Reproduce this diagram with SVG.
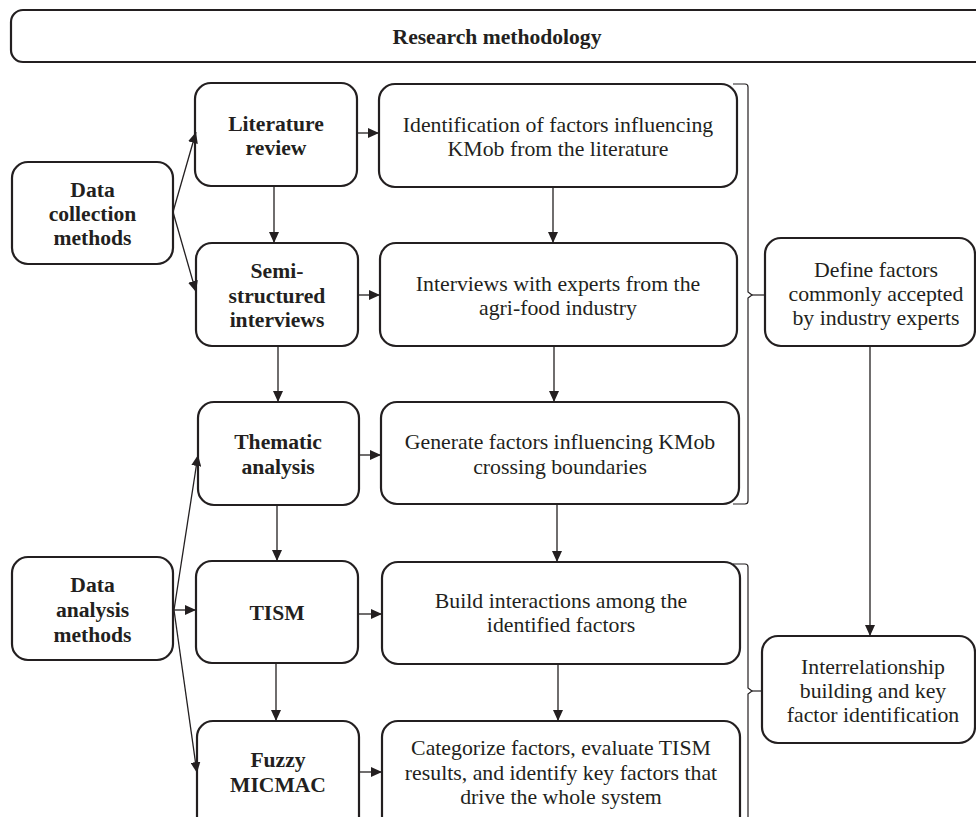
<svg xmlns="http://www.w3.org/2000/svg" width="976" height="817" viewBox="0 0 976 817">
<defs>
<marker id="ah" markerUnits="userSpaceOnUse" markerWidth="11" markerHeight="10" refX="11" refY="5" orient="auto">
<path d="M0,0 L11,5 L0,10 z" fill="#231f20"/>
</marker>
<style>
.box{fill:#fff;stroke:#231f20;stroke-width:2.2}
.b{font-family:"Liberation Serif","Times New Roman",serif;font-weight:bold;font-size:21.6px;fill:#231f20;text-anchor:middle}
.r{font-family:"Liberation Serif","Times New Roman",serif;font-size:21.8px;fill:#231f20;text-anchor:middle}
.c{fill:none;stroke:#231f20;stroke-width:1.3;marker-end:url(#ah)}
.br{fill:none;stroke:#231f20;stroke-width:1.2}
</style>
</defs>
<rect width="976" height="817" fill="#fff"/>

<g id="title">
<rect class="box" x="11" y="10" width="985" height="52" rx="12"/>
<text class="b" x="497" y="44">Research methodology</text>
</g>

<g id="data-collection">
<rect class="box" x="12" y="162" width="161" height="102" rx="16"/>
<text class="b" x="92.5" y="197">Data</text>
<text class="b" x="92.5" y="221">collection</text>
<text class="b" x="92.5" y="245">methods</text>
</g>

<g id="data-analysis">
<rect class="box" x="12" y="557" width="161" height="103" rx="16"/>
<text class="b" x="92.5" y="592">Data</text>
<text class="b" x="92.5" y="617">analysis</text>
<text class="b" x="92.5" y="642">methods</text>
</g>

<g id="literature-review">
<rect class="box" x="195" y="83" width="162" height="103" rx="16"/>
<text class="b" x="276" y="131">Literature</text>
<text class="b" x="276" y="155">review</text>
</g>

<g id="semi-structured">
<rect class="box" x="196" y="243" width="162" height="103" rx="16"/>
<text class="b" x="277" y="278">Semi-</text>
<text class="b" x="277" y="303">structured</text>
<text class="b" x="277" y="327">interviews</text>
</g>

<g id="thematic">
<rect class="box" x="198" y="402" width="161" height="103" rx="16"/>
<text class="b" x="278" y="449">Thematic</text>
<text class="b" x="278" y="474">analysis</text>
</g>

<g id="tism">
<rect class="box" x="196" y="561" width="162" height="102" rx="16"/>
<text class="b" x="277" y="620">TISM</text>
</g>

<g id="fuzzy">
<rect class="box" x="197" y="721" width="162" height="115" rx="16"/>
<text class="b" x="278" y="767">Fuzzy</text>
<text class="b" x="278" y="792">MICMAC</text>
</g>

<g id="identification">
<rect class="box" x="379" y="84" width="358" height="103" rx="16"/>
<text class="r" x="558" y="132">Identification of factors influencing</text>
<text class="r" x="558" y="156">KMob from the literature</text>
</g>

<g id="interviews">
<rect class="box" x="380" y="243" width="357" height="103" rx="16"/>
<text class="r" x="558" y="291">Interviews with experts from the</text>
<text class="r" x="558" y="315">agri-food industry</text>
</g>

<g id="generate">
<rect class="box" x="381" y="402" width="358" height="102" rx="16"/>
<text class="r" x="560" y="449">Generate factors influencing KMob</text>
<text class="r" x="560" y="474">crossing boundaries</text>
</g>

<g id="build">
<rect class="box" x="382" y="562" width="358" height="102" rx="16"/>
<text class="r" x="561" y="608">Build interactions among the</text>
<text class="r" x="561" y="632">identified factors</text>
</g>

<g id="categorize">
<rect class="box" x="382" y="721" width="358" height="115" rx="16"/>
<text class="r" x="561" y="755">Categorize factors, evaluate TISM</text>
<text class="r" x="561" y="780">results, and identify key factors that</text>
<text class="r" x="561" y="804">drive the whole system</text>
</g>

<g id="define">
<rect class="box" x="765" y="238" width="210" height="108" rx="16"/>
<text class="r" x="876" y="277">Define factors</text>
<text class="r" x="876" y="301">commonly accepted</text>
<text class="r" x="876" y="325">by industry experts</text>
</g>

<g id="interrelationship">
<rect class="box" x="762" y="636" width="213" height="107" rx="16"/>
<text class="r" x="873" y="674">Interrelationship</text>
<text class="r" x="873" y="698">building and key</text>
<text class="r" x="873" y="722">factor identification</text>
</g>

<g id="connectors">
<path class="c" d="M173,212 L196,132"/>
<path class="c" d="M173,212 L196,292"/>
<path class="c" d="M274,186 L274,243"/>
<path class="c" d="M278,346 L278,402"/>
<path class="c" d="M277,505 L277,561"/>
<path class="c" d="M276,663 L276,721"/>
<path class="c" d="M174,610 L198,455"/>
<path class="c" d="M173,610 L196,610"/>
<path class="c" d="M174,610 L197,773"/>
<path class="c" d="M357,133 L379,133"/>
<path class="c" d="M358,295 L380,295"/>
<path class="c" d="M359,455 L381,455"/>
<path class="c" d="M358,614 L382,614"/>
<path class="c" d="M359,772 L382,772"/>
<path class="c" d="M553,187 L553,243"/>
<path class="c" d="M554,346 L554,402"/>
<path class="c" d="M557,504 L557,562"/>
<path class="c" d="M558,664 L558,721"/>
<path class="c" d="M870,346 L870,636"/>
<path class="br" d="M733,84 L745,84 Q748,84 748,87 L748,292 L752,295 L748,298 L748,501 Q748,504 745,504 L733,504"/>
<path class="br" d="M752,295 L765,295"/>
<path class="br" d="M733,564 L745,564 Q748,564 748,567 L748,688 L752,691 L748,694 L748,830"/>
<path class="br" d="M752,691 L762,691"/>
</g>
</svg>
